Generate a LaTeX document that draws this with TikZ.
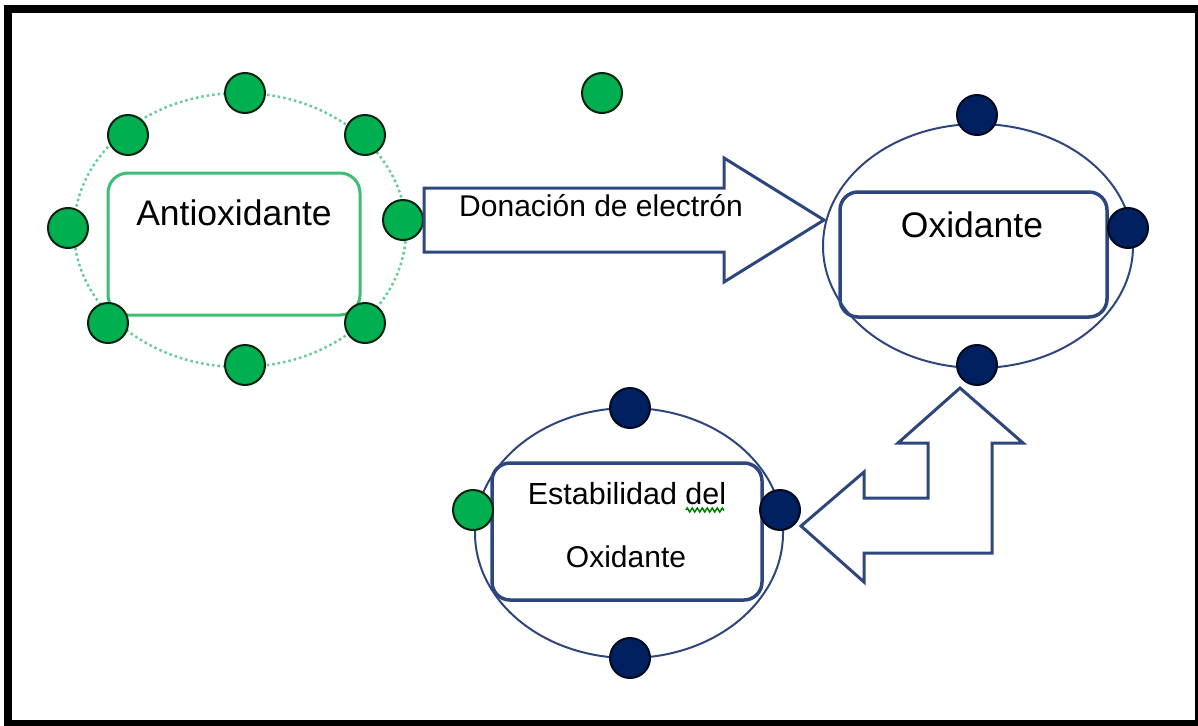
\documentclass[tikz,border=0pt]{standalone}
\usepackage{fontspec}
\setmainfont{Liberation Sans}
\usetikzlibrary{positioning,decorations.pathmorphing}
\definecolor{dotgreen}{RGB}{0,176,80}
\definecolor{dotnavy}{RGB}{0,32,96}
\definecolor{linenavy}{RGB}{45,70,125}
\definecolor{boxgreen}{RGB}{60,190,115}
\definecolor{ringgreen}{RGB}{100,205,150}

\begin{document}
\begin{tikzpicture}[x=1pt, y=-1pt,
    greendot/.style={circle, draw=black!80!dotgreen, line width=2pt, fill=dotgreen, minimum size=40pt, inner sep=0pt},
    navydot/.style={circle, draw=black!70!dotnavy, line width=2pt, fill=dotnavy, minimum size=40pt, inner sep=0pt},
    txt/.style={font=\fontsize{30}{36}\selectfont, anchor=base, inner sep=0pt},
    bigtxt/.style={txt, font=\fontsize{35.5}{42}\selectfont},
    blockarrow/.style={draw=linenavy, line width=3pt, line join=miter}]
    \useasboundingbox (0,0) rectangle (1198,725);
    \draw[line width=8pt] (8,9) rectangle (1199,724);

    % Antioxidante
    \draw[ringgreen, line width=2.5pt, dash pattern=on 2.5pt off 3pt] (240,230) ellipse [x radius=166pt, y radius=137pt];
    \draw[boxgreen, line width=3pt, rounded corners=20pt] (108,173) rectangle (360,315);
    \node (antiox) [bigtxt] at (234,225) {Antioxidante};
    \node (g1) [greendot] at (245,93) {};
    \node (g2) [greendot] at (128,135) {};
    \node (g3) [greendot] at (365,135) {};
    \node (g4) [greendot] at (68,228) {};
    \node (g5) [greendot] at (403,220) {};
    \node (g6) [greendot] at (108,323) {};
    \node (g7) [greendot] at (365,323) {};
    \node (g8) [greendot] at (245,365) {};
    \node (free) [greendot] at (602,93) {};

    % Oxidante
    \draw[linenavy, line width=2pt] (978,246) ellipse [x radius=155pt, y radius=122pt];
    \draw[linenavy, line width=3.5pt, rounded corners=18pt] (840,192) rectangle (1107,317);
    \node (oxid) [bigtxt] at (972,237) {Oxidante};
    \node (o1) [navydot] at (977,115) {};
    \node (o2) [navydot] at (1128,228) {};
    \node (o3) [navydot] at (977,365) {};

    % Estabilidad del oxidante
    \draw[linenavy, line width=2pt] (629,533) ellipse [x radius=154pt, y radius=125pt];
    \draw[linenavy, line width=3.5pt, rounded corners=18pt] (492,463) rectangle (762,600);
    \node (estab) [txt, font=\fontsize{30.5}{36}\selectfont] at (627,504) {Estabilidad del};
    \node (estab2) [txt] at (626,567) {Oxidante};
    \draw[green!50!black, line width=1.5pt, decorate, decoration={zigzag, amplitude=2pt, segment length=5pt}] (686,510) -- (724,510);
    \node (b1) [navydot] at (630,408) {};
    \node (b2) [greendot] at (473,510) {};
    \node (b3) [navydot] at (780,510) {};
    \node (b4) [navydot] at (630,658) {};

    % Arrows
    \draw[blockarrow] (g5.east) -- ++(0,-32) -- ++(300,0) -- ++(0,-30) -- ++(100,62) -- ++(-100,62) -- ++(0,-30) -- ++(-300,0) -- cycle;
    \node (don) [txt] at (601,216) {Donación de electrón};
    \draw[blockarrow] ([yshift=-16pt]b3.east) -- ++(63,-54) -- ++(0,26) -- ++(64,0) -- ++(0,-55) -- ++(-30,0) -- ++(62,-55) -- ++(63,55) -- ++(-31,0) -- ++(0,110) -- ++(-128,0) -- ++(0,29) -- cycle;
\end{tikzpicture}
\end{document}
